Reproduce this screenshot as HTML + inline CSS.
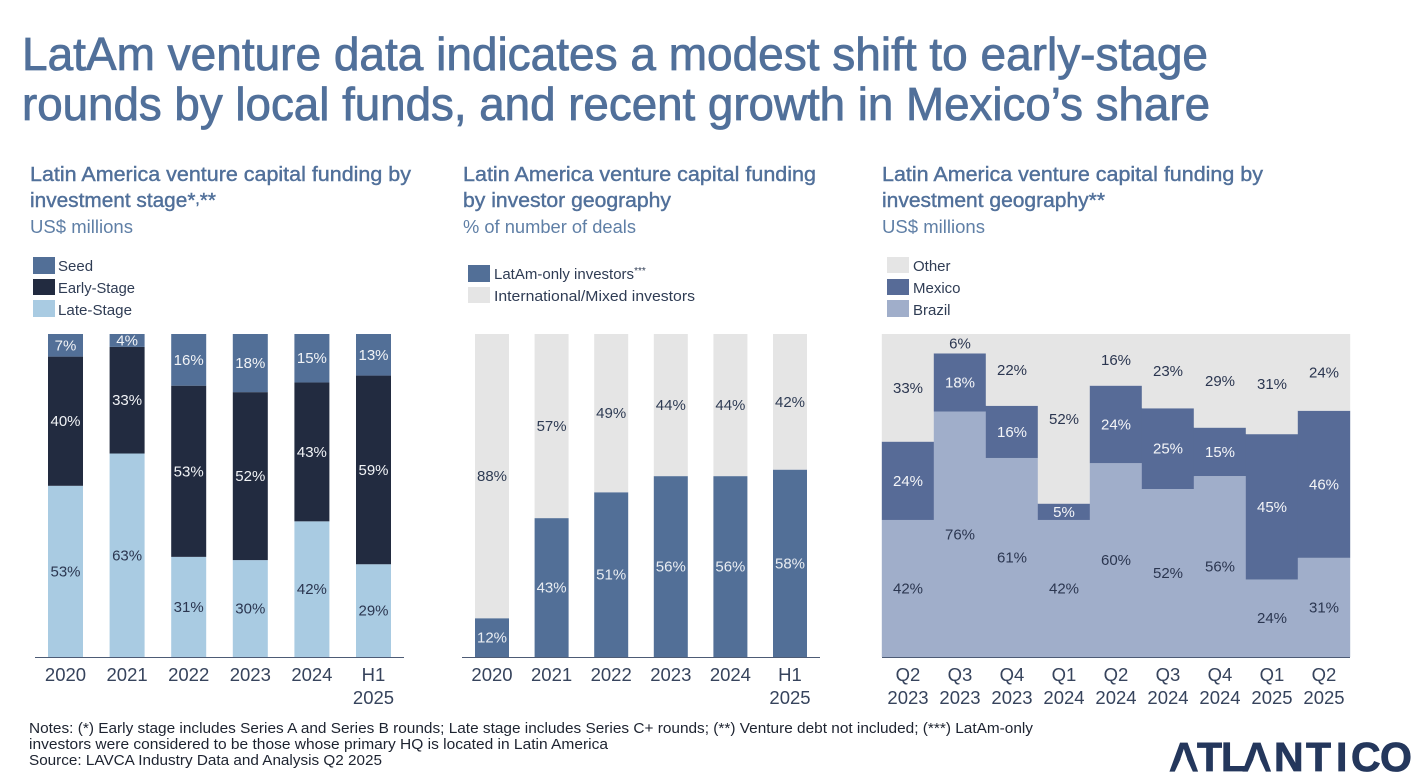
<!DOCTYPE html>
<html lang="en">
<head>
<meta charset="utf-8">
<title>LatAm venture data</title>
<style>
html,body{margin:0;padding:0;background:#fff;width:1416px;height:784px;overflow:hidden}
svg{display:block;font-family:"Liberation Sans",sans-serif}
.title{font-size:46px;fill:#51709a;stroke:#51709a;stroke-width:.8px}
.chart-title{font-size:20px;fill:#51709a;stroke:#51709a;stroke-width:.4px}
.chart-sub{font-size:18px;fill:#5f7fa6}
.legend{font-size:15px;fill:#2f3c54}
.tick{font-size:18.5px;fill:#36435c;text-anchor:middle}
.note{font-size:14.5px;fill:#1d2330}
.val{font-size:15px;text-anchor:middle}
.logo{font-size:41px;font-weight:bold;fill:#24375c;stroke:#24375c;stroke-width:.8px}
</style>
</head>
<body>
<svg id="slide" width="1416" height="784" viewBox="0 0 1416 784" xmlns="http://www.w3.org/2000/svg">
  <text class="title" x="22" y="70" textLength="1186" lengthAdjust="spacingAndGlyphs">LatAm venture data indicates a modest shift to early-stage</text>
  <text class="title" x="22" y="120" textLength="1188" lengthAdjust="spacingAndGlyphs">rounds by local funds, and recent growth in Mexico’s share</text>

  <text class="chart-title" x="30" y="181" textLength="381" lengthAdjust="spacingAndGlyphs">Latin America venture capital funding by</text>
  <text class="chart-title" x="30" y="207" textLength="186" lengthAdjust="spacingAndGlyphs">investment stage*<tspan font-size="15" dy="-3">,</tspan><tspan dy="3">**</tspan></text>
  <text class="chart-sub" x="30" y="233" textLength="103" lengthAdjust="spacingAndGlyphs">US$ millions</text>

  <text class="chart-title" x="463" y="181" textLength="353" lengthAdjust="spacingAndGlyphs">Latin America venture capital funding</text>
  <text class="chart-title" x="463" y="207" textLength="208" lengthAdjust="spacingAndGlyphs">by investor geography</text>
  <text class="chart-sub" x="463" y="233" textLength="173" lengthAdjust="spacingAndGlyphs">% of number of deals</text>

  <text class="chart-title" x="882" y="181" textLength="381" lengthAdjust="spacingAndGlyphs">Latin America venture capital funding by</text>
  <text class="chart-title" x="882" y="207" textLength="223" lengthAdjust="spacingAndGlyphs">investment geography**</text>
  <text class="chart-sub" x="882" y="233" textLength="103" lengthAdjust="spacingAndGlyphs">US$ millions</text>

  <g>
    <rect x="33" y="257" width="22" height="17" fill="#526f97"/>
    <text class="legend" x="58" y="271">Seed</text>
    <rect x="33" y="279" width="22" height="16" fill="#222b40"/>
    <text class="legend" x="58" y="293" textLength="77" lengthAdjust="spacingAndGlyphs">Early-Stage</text>
    <rect x="33" y="300" width="22" height="17" fill="#a9cbe2"/>
    <text class="legend" x="58" y="315" textLength="74" lengthAdjust="spacingAndGlyphs">Late-Stage</text>
  </g>
  <g>
    <rect x="468" y="265" width="22" height="17" fill="#526f97"/>
    <text class="legend" x="494" y="279">LatAm-only investors<tspan font-size="10" dy="-5">***</tspan></text>
    <rect x="468" y="287" width="22" height="16" fill="#e5e5e5"/>
    <text class="legend" x="494" y="301" textLength="201" lengthAdjust="spacingAndGlyphs">International/Mixed investors</text>
  </g>
  <g>
    <rect x="887" y="257" width="22" height="16" fill="#e5e5e5"/>
    <text class="legend" x="913" y="271">Other</text>
    <rect x="887" y="279" width="22" height="16" fill="#576b97"/>
    <text class="legend" x="913" y="293">Mexico</text>
    <rect x="887" y="300" width="22" height="17" fill="#a0aeca"/>
    <text class="legend" x="913" y="315">Brazil</text>
  </g>

  <g id="stage-chart"></g>
  <g id="investor-chart"></g>
  <g id="geography-chart"></g>

  <line x1="35" x2="404" y1="657.5" y2="657.5" stroke="#4d5b75" stroke-width="1"/>
  <line x1="462" x2="820" y1="657.5" y2="657.5" stroke="#4d5b75" stroke-width="1"/>
  <line x1="882" x2="1350" y1="657.5" y2="657.5" stroke="#4d5b75" stroke-width="1"/>

  <text class="note" x="29" y="733" textLength="1004" lengthAdjust="spacingAndGlyphs">Notes: (*) Early stage includes Series A and Series B rounds; Late stage includes Series C+ rounds; (**) Venture debt not included; (***) LatAm-only</text>
  <text class="note" x="29" y="749" textLength="579" lengthAdjust="spacingAndGlyphs">investors were considered to be those whose primary HQ is located in Latin America</text>
  <text class="note" x="29" y="765" textLength="353" lengthAdjust="spacingAndGlyphs">Source: LAVCA Industry Data and Analysis Q2 2025</text>

  <g>
    <text class="logo" x="1169 1197 1221 1242 1274 1306 1336 1351 1380" y="771">ATLANTICO</text>
    <polygon points="1183.8,752 1174.6,772 1193,772" fill="#fff"/>
    <polygon points="1256.8,752 1247.6,772 1266,772" fill="#fff"/>
  </g>
</svg>
<script>
var stageCategories = [["2020"], ["2021"], ["2022"], ["2023"], ["2024"], ["H1", "2025"]];
var stageLate = [53, 63, 31, 30, 42, 29];
var stageEarly = [40, 33, 53, 52, 43, 59];
var stageSeed = [7, 4, 16, 18, 15, 13];

var investorCategories = [["2020"], ["2021"], ["2022"], ["2023"], ["2024"], ["H1", "2025"]];
var investorLatam = [12, 43, 51, 56, 56, 58];
var investorInternational = [88, 57, 49, 44, 44, 42];

var geoCategories = [["Q2", "2023"], ["Q3", "2023"], ["Q4", "2023"], ["Q1", "2024"], ["Q2", "2024"], ["Q3", "2024"], ["Q4", "2024"], ["Q1", "2025"], ["Q2", "2025"]];
var geoBrazil = [42, 76, 61, 42, 60, 52, 56, 24, 31];
var geoMexico = [24, 18, 16, 5, 24, 25, 15, 45, 46];
var geoOther = [33, 6, 22, 52, 16, 23, 29, 31, 24];

var NS = "http://www.w3.org/2000/svg";
var plotTop = 334;
var plotBottom = 657;

function yScale(share) {
  return plotBottom - share * (plotBottom - plotTop);
}

function drawStacked(groupId, categories, seriesList, first, step, width, keys, fills, textFills) {
  var group = document.getElementById(groupId);
  categories.forEach(function (cat, i) {
    var total = 0;
    seriesList.forEach(function (s) { total += s[i]; });
    var cx = first + step * i;
    var running = 0;
    seriesList.forEach(function (s, k) {
      var y0 = yScale(running / total);
      running += s[i];
      var y1 = yScale(running / total);

      var rect = document.createElementNS(NS, "rect");
      
      
      rect.setAttribute("x", cx - width / 2);
      rect.setAttribute("y", y1);
      rect.setAttribute("width", width);
      rect.setAttribute("height", y0 - y1);
      rect.setAttribute("fill", fills[k]);
      rect.setAttribute("data-series", keys[k]);
      group.appendChild(rect);

      var label = document.createElementNS(NS, "text");
      
      
      label.setAttribute("class", "val");
      label.setAttribute("x", cx);
      label.setAttribute("y", (y0 + y1) / 2 + 5);
      label.setAttribute("fill", textFills[k]);
      label.textContent = s[i] + "%";
      group.appendChild(label);
    });
    cat.forEach(function (line, n) {
      var tick = document.createElementNS(NS, "text");
      
      
      tick.setAttribute("class", "tick");
      tick.setAttribute("x", cx);
      tick.setAttribute("y", 681 + n * 23);
      tick.textContent = line;
      group.appendChild(tick);
    });
  });
}

drawStacked("stage-chart", stageCategories, [stageLate, stageEarly, stageSeed], 65.5, 61.6, 35,
  ["late", "early", "seed"], ["#a9cbe2", "#222b40", "#526f97"], ["#2b3650", "#f1f3f6", "#f1f3f6"]);
drawStacked("investor-chart", investorCategories, [investorLatam, investorInternational], 492, 59.6, 34,
  ["latam", "international"], ["#526f97", "#e5e5e5"], ["#e9edf2", "#2f3c54"]);
drawStacked("geography-chart", geoCategories, [geoBrazil, geoMexico, geoOther], 908, 52, 52.4,
  ["brazil", "mexico", "other"], ["#a0aeca", "#576b97", "#e5e5e5"], ["#2b3650", "#f4f5f8", "#2b3650"]);
</script>
</body>
</html>
